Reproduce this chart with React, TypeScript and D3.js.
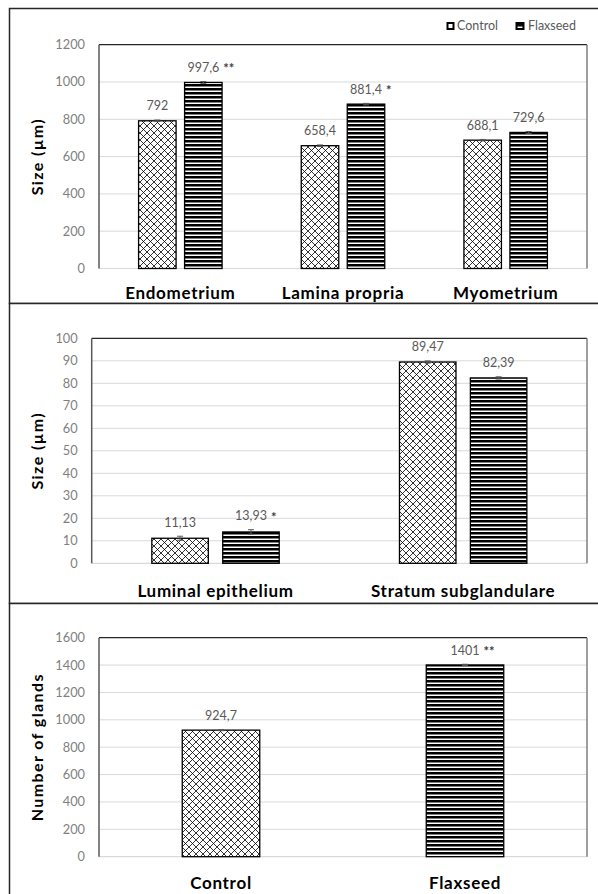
import React from "react";
import * as d3 from "d3";

// ---------- Data ----------
const seriesNames = ["Control", "Flaxseed"];

const p1Categories = ["Endometrium", "Lamina propria", "Myometrium"];
const p1Control = [792, 658.4, 688.1];
const p1Flaxseed = [997.6, 881.4, 729.6];
const p1ControlErr = [4, 4, 4];
const p1FlaxseedErr = [5, 4, 5];
const p1ControlStars = ["", "", ""];
const p1FlaxseedStars = ["**", "*", ""];
const p1Ticks = [0, 200, 400, 600, 800, 1000, 1200];

const p2Categories = ["Luminal epithelium", "Stratum subglandulare"];
const p2Control = [11.13, 89.47];
const p2Flaxseed = [13.93, 82.39];
const p2ControlErr = [0.9, 0.5];
const p2FlaxseedErr = [1.0, 0.5];
const p2ControlStars = ["", ""];
const p2FlaxseedStars = ["*", ""];
const p2Ticks = [0, 10, 20, 30, 40, 50, 60, 70, 80, 90, 100];

const p3Categories = ["Control", "Flaxseed"];
const p3Values = [924.7, 1401];
const p3Err = [4, 5];
const p3Stars = ["", "**"];
const p3Ticks = [0, 200, 400, 600, 800, 1000, 1200, 1400, 1600];

// ---------- Styles ----------
const FONT = "Lato, 'Open Sans', sans-serif";
const TICK_COLOR = "#7f7f7f";
const LABEL_COLOR = "#595959";
const GRID = "#d9d9d9";

let _ctx: CanvasRenderingContext2D | null = null;
function measure(text: string, font: string) {
  if (!_ctx) _ctx = document.createElement("canvas").getContext("2d");
  if (!_ctx) return text.length * 7;
  _ctx.font = font;
  return _ctx.measureText(text).width;
}

const fmt = (v: number) => String(v).replace(".", ",");

type Bar = { cat: string; value: number; err: number; stars: string; fill: string };

type PanelProps = {
  boxTop: number;
  boxBottom: number;
  left: number;
  right: number;
  top: number;
  bottom: number;
  domainMax: number;
  ticks: number[];
  categories: string[];
  bars: Bar[][];
  barWidth: number;
  barGap: number;
  yTitle: string;
  catOffset: number;
};

function Panel(p: PanelProps) {
  const y = d3.scaleLinear().domain([0, p.domainMax]).range([p.bottom, p.top]);
  const x = d3.scaleBand<string>().domain(p.categories).range([p.left, p.right]).padding(0);
  const labelFont = `12.5px ${FONT}`;
  return (
    <g>
      <rect x={9.5} y={p.boxTop} width={600} height={p.boxBottom - p.boxTop} fill="white" stroke="#262626" strokeWidth={1.5} />
      {p.ticks.map((t) => (
        <g key={t}>
          {t > 0 && t < p.domainMax && (
            <line x1={p.left} x2={p.right} y1={y(t)} y2={y(t)} stroke={GRID} strokeWidth={1} />
          )}
          <text x={p.left - 14} y={y(t)} dy="0.35em" textAnchor="end" fontFamily={FONT} fontSize={12.8} fill={TICK_COLOR}>
            {t}
          </text>
        </g>
      ))}
      <line x1={p.left} x2={p.right} y1={p.bottom} y2={p.bottom} stroke={GRID} strokeWidth={1.2} />
      <line x1={p.left} x2={p.right} y1={p.top} y2={p.top} stroke="#262626" strokeWidth={1.2} />
      <line x1={p.left} x2={p.left} y1={p.top} y2={p.bottom} stroke="#595959" strokeWidth={1.5} />
      <line x1={p.right} x2={p.right} y1={p.top} y2={p.bottom} stroke="#7f7f7f" strokeWidth={1.5} />
      {p.categories.map((c, ci) => {
        const center = (x(c) ?? 0) + x.bandwidth() / 2;
        const group = p.bars[ci];
        const n = group.length;
        const totalW = n * p.barWidth + (n - 1) * p.barGap;
        return (
          <g key={c}>
            {group.map((b, bi) => {
              const bx = center - totalW / 2 + bi * (p.barWidth + p.barGap);
              const bc = bx + p.barWidth / 2;
              const top = y(b.value);
              const numText = fmt(b.value);
              const numW = measure(numText, labelFont);
              const ly = y(b.value + b.err) - 14;
              return (
                <g key={bi}>
                  <rect x={bx} y={top} width={p.barWidth} height={p.bottom - top} fill={b.fill} stroke="#000" strokeWidth={1.3} />
                  <line x1={bc} x2={bc} y1={y(b.value + b.err)} y2={y(b.value - b.err)} stroke="#595959" strokeWidth={1} />
                  <line x1={bc - 3} x2={bc + 3} y1={y(b.value + b.err)} y2={y(b.value + b.err)} stroke="#595959" strokeWidth={1} />
                  <line x1={bc - 3} x2={bc + 3} y1={y(b.value - b.err)} y2={y(b.value - b.err)} stroke="#595959" strokeWidth={1} />
                  <text x={bc} y={ly} dy="0.35em" textAnchor="middle" fontFamily={FONT} fontSize={12.5} fill={LABEL_COLOR}>
                    {numText}
                  </text>
                  {b.stars && (
                    <text x={bc + numW / 2 + 4} y={ly} dy="0.45em" textAnchor="start" fontFamily={FONT} fontSize={13} fontWeight="bold" fill="#404040">
                      {b.stars}
                    </text>
                  )}
                </g>
              );
            })}
            <text x={center} y={p.bottom + p.catOffset} dy="0.35em" textAnchor="middle" fontFamily={FONT} fontSize={17} fontWeight="bold" letterSpacing={0.7} fill="#000">
              {c}
            </text>
          </g>
        );
      })}
      <text
        transform={`translate(37,${(p.top + p.bottom) / 2}) rotate(-90)`}
        dy="0.35em"
        textAnchor="middle"
        fontFamily={FONT}
        fontSize={16}
        fontWeight="bold"
        letterSpacing={1.4}
        fill="#000"
      >
        {p.yTitle}
      </text>
    </g>
  );
}

export default function App() {
  const mk = (cats: string[], ctrl: number[], flax: number[], ce: number[], fe: number[], cs: string[], fs: string[]) =>
    cats.map((c, i) => [
      { cat: c, value: ctrl[i], err: ce[i], stars: cs[i], fill: "url(#cross)" },
      { cat: c, value: flax[i], err: fe[i], stars: fs[i], fill: "url(#stripes)" },
    ]);
  const p1Bars = mk(p1Categories, p1Control, p1Flaxseed, p1ControlErr, p1FlaxseedErr, p1ControlStars, p1FlaxseedStars);
  const p2Bars = mk(p2Categories, p2Control, p2Flaxseed, p2ControlErr, p2FlaxseedErr, p2ControlStars, p2FlaxseedStars);
  const p3Bars = p3Categories.map((c, i) => [
    { cat: c, value: p3Values[i], err: p3Err[i], stars: p3Stars[i], fill: i === 0 ? "url(#cross)" : "url(#stripes)" },
  ]);

  return (
    <svg width={598} height={894} style={{ position: "absolute", left: 0, top: 0, background: "white" }}>
      <defs>
        <pattern id="cross" width={7} height={7} patternUnits="userSpaceOnUse">
          <rect width={7} height={7} fill="white" />
          <path d="M0,0L7,7M7,0L0,7" stroke="#000" strokeWidth={0.8} />
        </pattern>
        <pattern id="stripes" width={4} height={4} patternUnits="userSpaceOnUse">
          <rect width={4} height={4} fill="white" />
          <rect width={4} height={2.5} fill="#000" />
        </pattern>
      </defs>
      <Panel
        boxTop={8.5}
        boxBottom={303.5}
        left={99}
        right={587}
        top={44.7}
        bottom={268.5}
        domainMax={1200}
        ticks={p1Ticks}
        categories={p1Categories}
        bars={p1Bars}
        barWidth={37.5}
        barGap={8.5}
        yTitle="Size (µm)"
        catOffset={25}
      />
      <Panel
        boxTop={303.5}
        boxBottom={603.5}
        left={91.7}
        right={587}
        top={338.3}
        bottom={563.3}
        domainMax={100}
        ticks={p2Ticks}
        categories={p2Categories}
        bars={p2Bars}
        barWidth={56.5}
        barGap={14.4}
        yTitle="Size (µm)"
        catOffset={28}
      />
      <Panel
        boxTop={603.5}
        boxBottom={900}
        left={99}
        right={587}
        top={637.7}
        bottom={856.7}
        domainMax={1600}
        ticks={p3Ticks}
        categories={p3Categories}
        bars={p3Bars}
        barWidth={77.5}
        barGap={0}
        yTitle="Number of glands"
        catOffset={26}
      />
      <g>
        <rect x={447.5} y={23} width={6} height={6} fill="white" stroke="#000" strokeWidth={2} />
        <text x={457} y={26} dy="0.35em" fontFamily={FONT} fontSize={12.5} fill={LABEL_COLOR}>
          {seriesNames[0]}
        </text>
        <rect x={516.5} y={23} width={7} height={6} fill="url(#stripes)" stroke="#000" strokeWidth={2} />
        <text x={528} y={26} dy="0.35em" fontFamily={FONT} fontSize={12.5} fill={LABEL_COLOR}>
          {seriesNames[1]}
        </text>
      </g>
    </svg>
  );
}
